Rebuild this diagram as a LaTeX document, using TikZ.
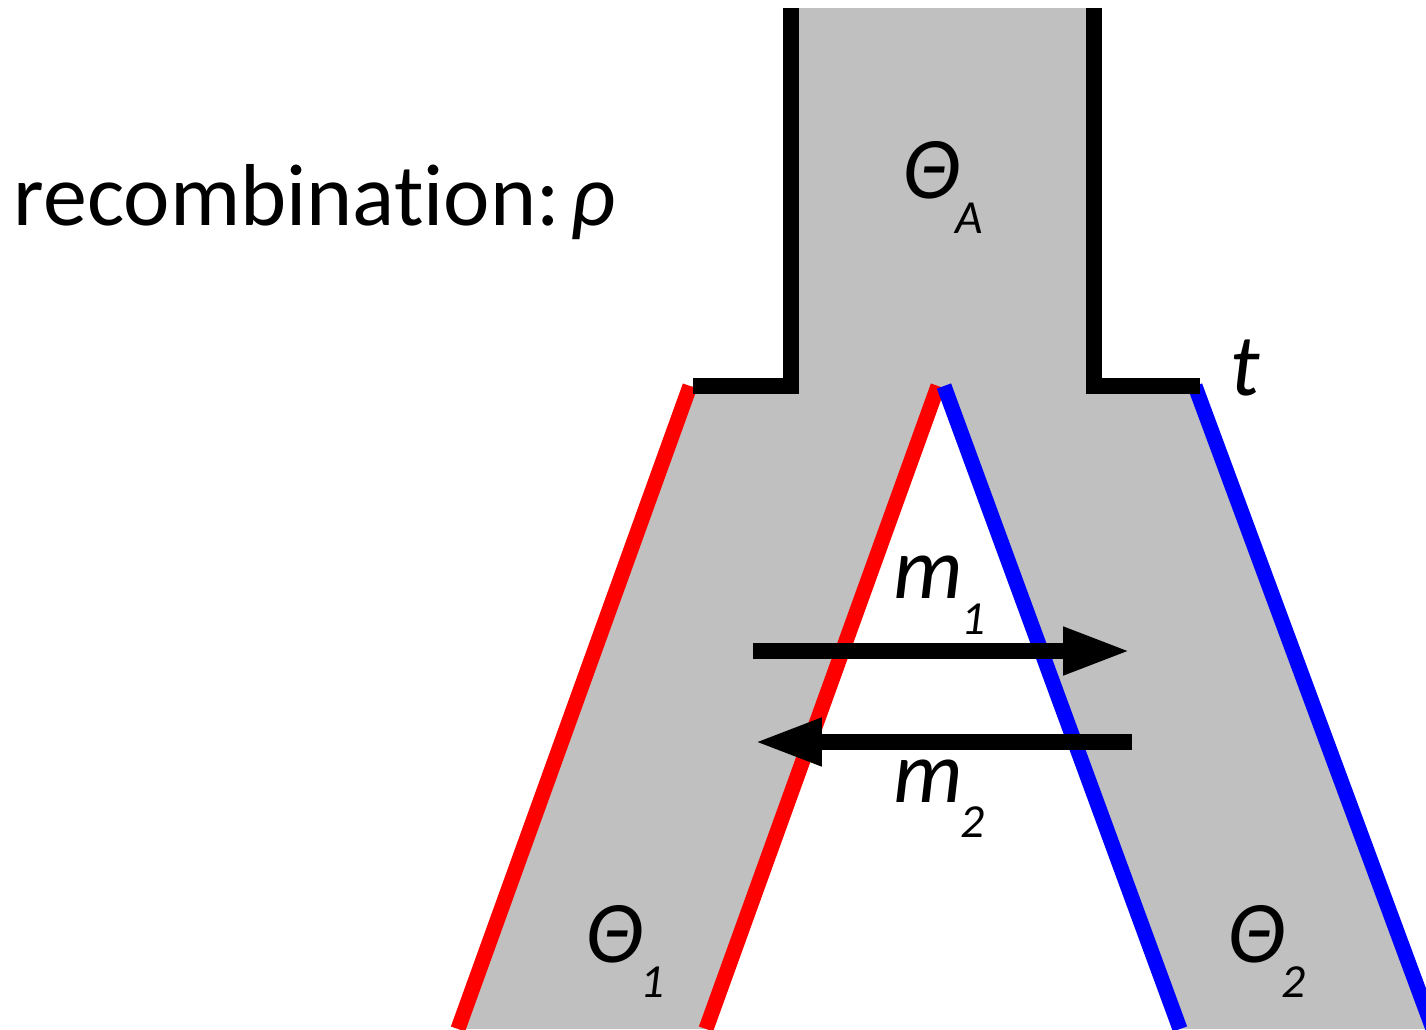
\documentclass[tikz,border=0pt]{standalone}
\usepackage{fontspec}
\setmainfont{Carlito}[Ligatures=NoCommon]
\usetikzlibrary{arrows.meta}
\definecolor{branchgray}{RGB}{192,192,192}
\definecolor{popred}{RGB}{255,0,0}
\definecolor{popblue}{RGB}{0,0,255}
\tikzset{
  edgeline/.style={line width=4.3pt, line cap=butt},
  blackedge/.style={edgeline, draw=black, line join=miter},
  rededge/.style={edgeline, draw=popred},
  blueedge/.style={edgeline, draw=popblue},
  migarrow/.style={line width=4.5pt, draw=black, -{Triangle[length=19.3pt,width=12.5pt]}},
  lab/.style={inner sep=0pt, outer sep=0pt, anchor=base west, font=\fontsize{25}{25}\selectfont\itshape},
  sublab/.style={inner sep=0pt, outer sep=0pt, anchor=base west, font=\fontsize{13.5}{13.5}\selectfont\itshape},
  title/.style={inner sep=0pt, outer sep=0pt, anchor=base west, font=\fontsize{25}{25}\selectfont}
}
\begin{document}
\begin{tikzpicture}[x=0.01cm, y=-0.01cm]
\useasboundingbox (0,0) rectangle (1426,1029);
\begin{scope}
\clip (0,0) rectangle (1426,1029);
% coordinates
\coordinate (tl) at (791,8);
\coordinate (tr) at (1094,8);
\coordinate (sl) at (791,386);
\coordinate (sr) at (1094,386);
\coordinate (ol) at (690,386);
\coordinate (or) at (1195,386);
\coordinate (apexr) at (938,386);
\coordinate (apexb) at (944,386);
\coordinate (apex) at (941,386);
\coordinate (bl1) at (458,1029);
\coordinate (bl2) at (706,1029);
\coordinate (br1) at (1180,1029);
\coordinate (br2) at (1433,1029);
% gray fill
\fill[branchgray] (tl) -- (tr) -- (sr) -- (or) -- (br2) -- (br1) -- (apex) -- (bl2) -- (bl1) -- (ol) -- (sl) -- cycle;
% coloured branch edges
\draw[rededge] (ol) -- (bl1);
\draw[rededge] (apexr) -- (bl2);
\draw[blueedge] (apexb) -- (br1);
\draw[blueedge] (or) -- (br2);
% black ancestral edges
\coordinate (hl) at (693,386);
\coordinate (hr) at (1200,386);
\draw[blackedge] (hl) -- (sl) -- (tl);
\draw[blackedge] (hr) -- (sr) -- (tr);
\end{scope}
% migration arrows
\coordinate (a1s) at (753,651);
\coordinate (a1e) at (1131,651);
\coordinate (a2s) at (1132,742);
\coordinate (a2e) at (754,742);
\draw[migarrow] (a1s) -- (a1e);
\draw[migarrow] (a2s) -- (a2e);
% labels
\node[title] (rec) at (14,225) {recombination:\hspace{0.12em}\textit{ρ}};
\node[lab] (thA) at (903,198) {Θ};
\node[sublab] (thAs) at (955,233) {A};
\node[lab] (m1) at (893,598) {m};
\node[sublab] (m1s) at (961,634) {1};
\node[lab] (m2) at (893,802) {m};
\node[sublab] (m2s) at (960,837) {2};
\node[lab] (th1) at (586,962) {Θ};
\node[sublab] (th1s) at (640,997) {1};
\node[lab] (th2) at (1228,962) {Θ};
\node[sublab] (th2s) at (1281,997) {2};
\node[lab] (tlab) at (1230,395) {t};
\end{tikzpicture}
\end{document}
